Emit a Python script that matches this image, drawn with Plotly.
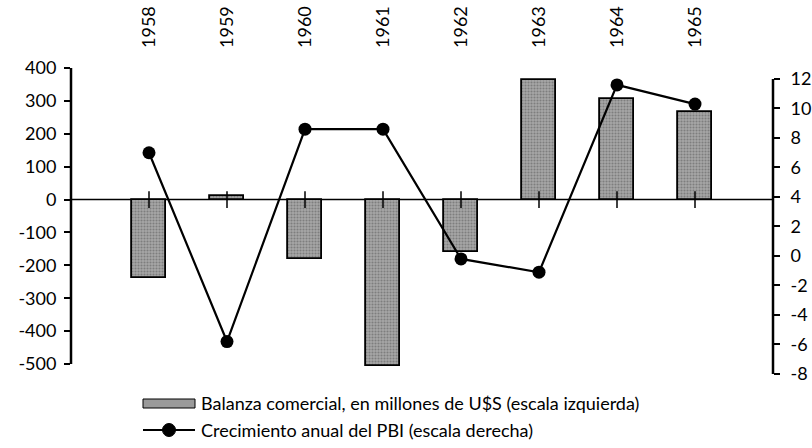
import plotly.graph_objects as go

# ---- data ----
years = ["1958", "1959", "1960", "1961", "1962", "1963", "1964", "1965"]
balanza = [-240, 10, -180, -505, -160, 365, 305, 265]          # millones de U$S (escala izquierda)
pbi = [7.0, -5.8, 8.6, 8.6, -0.2, -1.1, 11.6, 10.3]             # crecimiento anual (escala derecha)
left_ticks = [-500, -400, -300, -200, -100, 0, 100, 200, 300, 400]
left_labels = ["-500", "-400", "-300", "-200", "-100", "0", "100", "200", "300", "400"]
right_ticks = [-8, -6, -4, -2, 0, 2, 4, 6, 8, 10, 12]
right_labels = ["-8", "-6", "-4", "-2", "0", "2", "4", "6", "8", "10", "12"]
legend_bar = "Balanza comercial, en millones de U$S (escala izquierda)"
legend_line = "Crecimiento anual del PBI (escala derecha)"

FONT = "Lato"
W, H = 812, 448
ML, MR, MT, MB = 71, 39, 66, 72
PW, PH = W - ML - MR, H - MT - MB


def px(x):
    return (x - ML) / PW


def py(y):
    return (H - MB - y) / PH


left_range = [-536.5, 406.1]
right_range = [-8.136, 12.881]

fig = go.Figure()

fig.add_trace(go.Bar(
    x=years, y=balanza, width=0.44, name=legend_bar, showlegend=False,
    marker=dict(color="#a6a6a6", line=dict(color="black", width=1.8),
                pattern=dict(shape=".", fgcolor="#555555", size=3, solidity=0.4)),
    yaxis="y",
))

# category tick marks on the zero line
fig.add_trace(go.Scatter(
    x=years, y=[0] * len(years), mode="markers", showlegend=False, hoverinfo="skip",
    marker=dict(symbol="line-ns", size=12, line=dict(color="black", width=1.5)),
    yaxis="y",
))

fig.add_trace(go.Scatter(
    x=years, y=pbi, mode="lines+markers", name=legend_line, showlegend=False,
    line=dict(color="black", width=2.2),
    marker=dict(color="black", size=13),
    yaxis="y2",
))

axis_common = dict(showgrid=False, zeroline=False, showline=False, automargin=False,
                   tickcolor="black", tickwidth=2, ticklen=6,
                   tickfont=dict(family=FONT, size=18, color="black"))

fig.update_layout(
    width=W, height=H,
    margin=dict(l=ML, r=MR, t=MT, b=MB),
    paper_bgcolor="white", plot_bgcolor="white",
    font=dict(family=FONT, size=18, color="black"),
    showlegend=False,
    bargap=0,
    xaxis=dict(type="category", categoryarray=years, range=[-1, 8], side="top",
               tickangle=-90, ticks="", showgrid=False, zeroline=False, showline=False,
               automargin=False, ticklabelstandoff=17,
               tickfont=dict(family=FONT, size=18, color="black")),
    yaxis=dict(range=left_range, tickvals=left_ticks, ticktext=left_labels, ticks="outside",
               ticklabelstandoff=4, **axis_common),
    yaxis2=dict(range=right_range, tickvals=right_ticks, ticktext=right_labels, ticks="outside",
                overlaying="y", side="right", ticklabelstandoff=7, **axis_common),
    yaxis3=dict(range=left_range, tickvals=left_ticks, ticks="inside", overlaying="y",
                showticklabels=False, showgrid=False, zeroline=False, showline=False,
                tickcolor="black", tickwidth=2, ticklen=6),
    yaxis4=dict(range=right_range, tickvals=right_ticks, ticks="inside", overlaying="y",
                side="right", showticklabels=False, showgrid=False, zeroline=False,
                showline=False, tickcolor="black", tickwidth=2, ticklen=6),
)

shapes = [
    # left axis line
    dict(type="line", xref="paper", yref="y", x0=0, x1=0, y0=left_ticks[0], y1=left_ticks[-1],
         line=dict(color="black", width=2.5)),
    # right axis line
    dict(type="line", xref="paper", yref="y2", x0=1, x1=1, y0=right_ticks[0], y1=right_ticks[-1],
         line=dict(color="black", width=2.5)),
    # zero line
    dict(type="line", xref="paper", yref="y", x0=0, x1=1, y0=0, y1=0,
         line=dict(color="black", width=1.5), layer="below"),
    # legend swatch (bars)
    dict(type="rect", xref="paper", yref="paper", x0=px(143), x1=px(195), y0=py(399), y1=py(408),
         fillcolor="#9a9a9a", line=dict(color="black", width=1)),
    # legend line
    dict(type="line", xref="paper", yref="paper", x0=px(143), x1=px(195), y0=py(430), y1=py(430),
         line=dict(color="black", width=2)),
    dict(type="circle", xref="paper", yref="paper", x0=px(162.5), x1=px(175.5), y0=py(436.5), y1=py(423.5),
         fillcolor="black", line=dict(color="black", width=1)),
]
fig.update_layout(shapes=shapes)

fig.add_annotation(xref="paper", yref="paper", x=px(199), y=py(403), xanchor="left", yanchor="middle",
                   text=legend_bar, showarrow=False, font=dict(family=FONT, size=18, color="black"))
fig.add_annotation(xref="paper", yref="paper", x=px(199), y=py(430), xanchor="left", yanchor="middle",
                   text=legend_line, showarrow=False, font=dict(family=FONT, size=18, color="black"))

fig.write_html(
    "out.html",
    config={"displayModeBar": False},
    post_script="document.body.style.margin='0';document.body.style.padding='0';"
                "document.body.style.overflow='hidden';",
)
